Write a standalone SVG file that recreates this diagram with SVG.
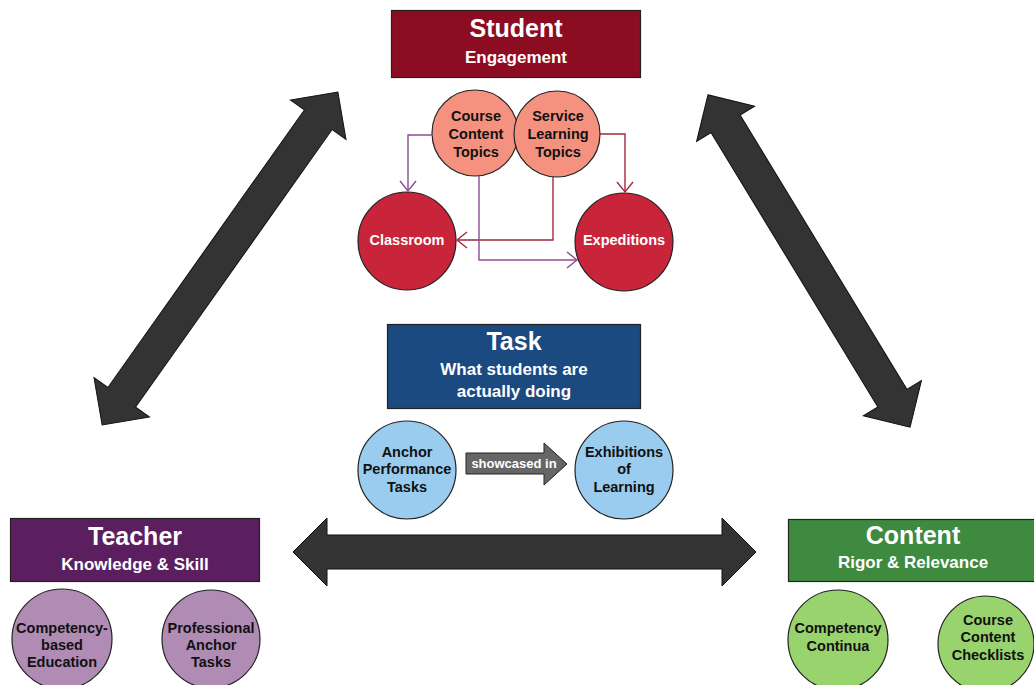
<svg xmlns="http://www.w3.org/2000/svg" width="1034" height="685" viewBox="0 0 1034 685">
<defs>
<style>
text{font-family:"Liberation Sans",Arial,sans-serif;font-weight:bold;text-anchor:middle}
.w{fill:#fff}
.k{fill:#111}
.t1{font-size:25px}
.t2{font-size:17px}
.c{font-size:14.5px}
.box{stroke:#222;stroke-width:1.2}
.circ{stroke:#222;stroke-width:1.2}
.big{fill:#333;stroke:#111;stroke-width:1}
.lp{fill:none;stroke:#8e4c91;stroke-width:1.4}
.lr{fill:none;stroke:#a3293e;stroke-width:1.4}
</style>
<marker id="mp" markerUnits="userSpaceOnUse" markerWidth="14" markerHeight="20" viewBox="-12 -9 14 18" refX="0" refY="0" orient="auto">
<path d="M-10,-8 L0,0 L-10,8" fill="none" stroke="#8e4c91" stroke-width="1.4"/>
</marker>
<marker id="mr" markerUnits="userSpaceOnUse" markerWidth="14" markerHeight="20" viewBox="-12 -9 14 18" refX="0" refY="0" orient="auto">
<path d="M-10,-8 L0,0 L-10,8" fill="none" stroke="#a3293e" stroke-width="1.4"/>
</marker>
</defs>
<rect width="1034" height="685" fill="#fff"/>

<g id="big-arrows">
<polygon class="big" transform="translate(220,258.5) rotate(-54.7)" points="-204,0 -170,-34 -170,-17 170,-17 170,-34 204,0 170,34 170,17 -170,17 -170,34"/>
<polygon class="big" transform="translate(809,261) rotate(58.7)" points="-194.5,0 -160.5,-34 -160.5,-17 160.5,-17 160.5,-34 194.5,0 160.5,34 160.5,17 -160.5,17 -160.5,34"/>
<polygon class="big" transform="translate(524.5,552)" points="-231.5,0 -197.5,-34 -197.5,-17 197.5,-17 197.5,-34 231.5,0 197.5,34 197.5,17 -197.5,17 -197.5,34"/>
</g>

<g id="student">
<rect class="box" x="391.5" y="10.5" width="249" height="67" fill="#8c0c22"/>
<text class="w t1" x="516" y="37">Student</text>
<text class="w t2" x="516" y="63">Engagement</text>
</g>

<g id="course-content-topics">
<circle class="circ" cx="475" cy="133" r="43" fill="#f4917f"/>
<text class="k c" x="476" y="121">Course</text>
<text class="k c" x="476" y="139">Content</text>
<text class="k c" x="476" y="157">Topics</text>
</g>
<g id="service-learning-topics">
<circle class="circ" cx="557" cy="134" r="43" fill="#f4917f"/>
<text class="k c" x="558" y="121">Service</text>
<text class="k c" x="558" y="139">Learning</text>
<text class="k c" x="558" y="157">Topics</text>
</g>
<g id="classroom">
<circle class="circ" cx="407" cy="241" r="49" fill="#c8243a"/>
<text class="w c" x="407" y="245">Classroom</text>
</g>
<g id="expeditions">
<circle class="circ" cx="624" cy="242" r="49" fill="#c8243a"/>
<text class="w c" x="624" y="245">Expeditions</text>
</g>

<g id="connectors">
<path class="lp" d="M433,135 H408 V191" marker-end="url(#mp)"/>
<path class="lr" d="M600,134 H625 V192" marker-end="url(#mr)"/>
<path class="lr" d="M553,177 V240 H457" marker-end="url(#mr)"/>
<path class="lp" d="M479,176 V260 H577" marker-end="url(#mp)"/>
</g>

<g id="task">
<rect class="box" x="387.5" y="324.5" width="253" height="84" fill="#1a4a80"/>
<text class="w t1" x="514" y="350">Task</text>
<text class="w t2" x="514" y="375">What students are</text>
<text class="w t2" x="514" y="397">actually doing</text>
</g>

<g id="anchor-performance-tasks">
<circle class="circ" cx="407" cy="470" r="49" fill="#99ccee"/>
<text class="k c" x="407" y="457">Anchor</text>
<text class="k c" x="407" y="474">Performance</text>
<text class="k c" x="407" y="492">Tasks</text>
</g>
<g id="showcased-in">
<polygon points="466,453 544,453 544,443 567,464 544,485 544,474 466,474" fill="#666" stroke="#222" stroke-width="1"/>
<text class="w" x="514" y="468" style="font-size:13px">showcased in</text>
</g>
<g id="exhibitions-of-learning">
<circle class="circ" cx="624" cy="470" r="49" fill="#99ccee"/>
<text class="k c" x="624" y="457">Exhibitions</text>
<text class="k c" x="624" y="474">of</text>
<text class="k c" x="624" y="492">Learning</text>
</g>

<g id="teacher">
<rect class="box" x="10.5" y="518.5" width="249" height="63" fill="#5b1e5f"/>
<text class="w t1" x="135" y="545">Teacher</text>
<text class="w t2" x="135" y="570">Knowledge &amp; Skill</text>
</g>
<g id="competency-based-education">
<circle class="circ" cx="62" cy="639" r="50" fill="#b08bb4"/>
<text class="k c" x="62" y="633">Competency-</text>
<text class="k c" x="62" y="650">based</text>
<text class="k c" x="62" y="667">Education</text>
</g>
<g id="professional-anchor-tasks">
<circle class="circ" cx="211" cy="639" r="49" fill="#b08bb4"/>
<text class="k c" x="211" y="633">Professional</text>
<text class="k c" x="211" y="650">Anchor</text>
<text class="k c" x="211" y="667">Tasks</text>
</g>

<g id="content">
<rect class="box" x="788.5" y="519.5" width="250" height="62" fill="#3e8a3e"/>
<text class="w t1" x="913" y="544">Content</text>
<text class="w t2" x="913" y="568">Rigor &amp; Relevance</text>
</g>
<g id="competency-continua">
<circle class="circ" cx="838" cy="640" r="50" fill="#99d36e"/>
<text class="k c" x="838" y="633">Competency</text>
<text class="k c" x="838" y="651">Continua</text>
</g>
<g id="course-content-checklists">
<circle class="circ" cx="986" cy="644" r="48" fill="#99d36e"/>
<text class="k c" x="988" y="625">Course</text>
<text class="k c" x="988" y="642">Content</text>
<text class="k c" x="988" y="660">Checklists</text>
</g>
</svg>
